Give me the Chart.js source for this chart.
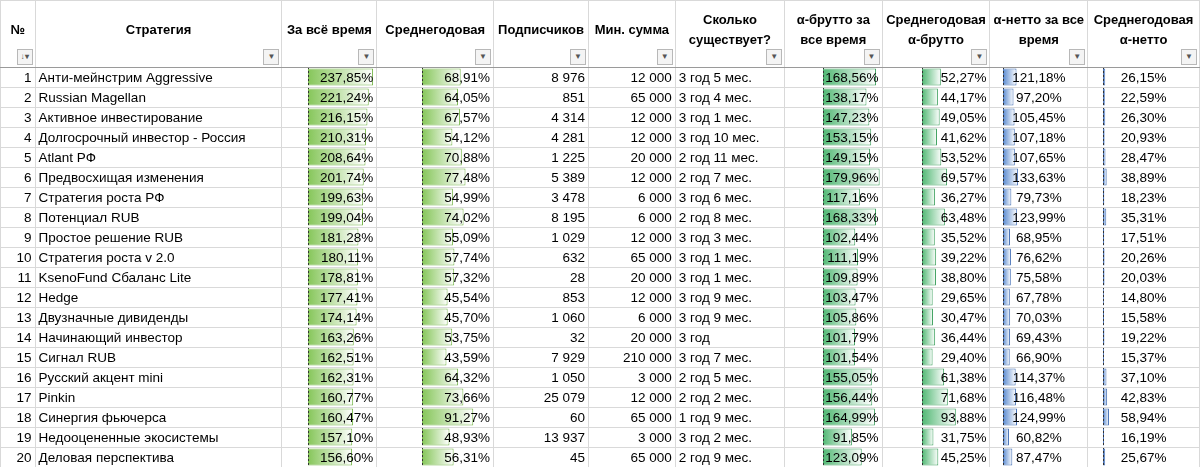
<!DOCTYPE html>
<html>
<head>
<meta charset="utf-8">
<script src="https://cdn.jsdelivr.net/npm/chart.js@4"></script>
<style>
  body { margin: 0; background: #fff; font-family: "Liberation Sans", Arial, sans-serif; }
  #wrap { position: relative; width: 1200px; height: 467px; overflow: hidden; }
  .bars { position: absolute; top: 67px; }
  table { position: absolute; left: 0; top: 0; border-collapse: collapse; table-layout: fixed; font-size: 13.5px; color: #000; }
  td, th { border: 1px solid #d9d9d9; padding: 0 3px; height: 19px; white-space: nowrap; overflow: hidden; }
  th { height: 66px; font-weight: bold; font-size: 13px; position: relative; vertical-align: middle; line-height: 20px; border-bottom: 1px solid #9a9a9a; }
  .flt { position: absolute; right: 2px; bottom: 2px; width: 14px; height: 14px; border: 1px solid #b8b8b8; background: #f4f4f4; font-size: 8px; line-height: 14px; text-align: center; color: #555; }
  .r { text-align: right; } .l { text-align: left; } .c { text-align: center; }
</style>
</head>
<body>
<div id="wrap">
  <canvas class="bars" id="b0" width="70" height="400" style="left:308px;width:70px;height:400px"></canvas>
  <canvas class="bars" id="b1" width="73" height="400" style="left:422px;width:73px;height:400px"></canvas>
  <canvas class="bars" id="b2" width="62" height="400" style="left:823px;width:62px;height:400px"></canvas>
  <canvas class="bars" id="b3" width="71" height="400" style="left:922px;width:71px;height:400px"></canvas>
  <canvas class="bars" id="b4" width="85" height="400" style="left:1003px;width:85px;height:400px"></canvas>
  <canvas class="bars" id="b5" width="97" height="400" style="left:1103px;width:97px;height:400px"></canvas>
  <table id="tbl"></table>
</div>
<script>
const names = ['Анти-мейнстрим Aggressive', 'Russian Magellan', 'Активное инвестирование', 'Долгосрочный инвестор - Россия', 'Atlant РФ', 'Предвосхищая изменения', 'Стратегия роста РФ', 'Потенциал RUB', 'Простое решение RUB', 'Стратегия роста v 2.0', 'KsenoFund Сбаланс Lite', 'Hedge', 'Двузначные дивиденды', 'Начинающий инвестор', 'Сигнал RUB', 'Русский акцент mini', 'Pinkin', 'Синергия фьючерса', 'Недооцененные экосистемы', 'Деловая перспектива'];
const totalReturn = [237.85, 221.24, 216.15, 210.31, 208.64, 201.74, 199.63, 199.04, 181.28, 180.11, 178.81, 177.41, 174.14, 163.26, 162.51, 162.31, 160.77, 160.47, 157.10, 156.60];
const annualReturn = [68.91, 64.05, 67.57, 54.12, 70.88, 77.48, 54.99, 74.02, 55.09, 57.74, 57.32, 45.54, 45.70, 53.75, 43.59, 64.32, 73.66, 91.27, 48.93, 56.31];
const subscribers = ['8 976', '851', '4 314', '4 281', '1 225', '5 389', '3 478', '8 195', '1 029', '632', '28', '853', '1 060', '32', '7 929', '1 050', '25 079', '60', '13 937', '45'];
const minSum = ['12 000', '65 000', '12 000', '12 000', '20 000', '12 000', '6 000', '6 000', '12 000', '65 000', '20 000', '12 000', '6 000', '20 000', '210 000', '3 000', '12 000', '65 000', '3 000', '65 000'];
const age = ['3 год 5 мес.', '3 год 4 мес.', '3 год 1 мес.', '3 год 10 мес.', '2 год 11 мес.', '2 год 7 мес.', '3 год 6 мес.', '2 год 8 мес.', '3 год 3 мес.', '3 год 1 мес.', '3 год 1 мес.', '3 год 9 мес.', '3 год 9 мес.', '3 год', '3 год 7 мес.', '2 год 5 мес.', '2 год 2 мес.', '1 год 9 мес.', '3 год 2 мес.', '2 год 9 мес.'];
const alphaGross = [168.56, 138.17, 147.23, 153.15, 149.15, 179.96, 117.16, 168.33, 102.44, 111.19, 109.89, 103.47, 105.86, 101.79, 101.54, 155.05, 156.44, 164.99, 91.85, 123.09];
const alphaGrossAnnual = [52.27, 44.17, 49.05, 41.62, 53.52, 69.57, 36.27, 63.48, 35.52, 39.22, 38.80, 29.65, 30.47, 36.44, 29.40, 61.38, 71.68, 93.88, 31.75, 45.25];
const alphaNet = [121.18, 97.20, 105.45, 107.18, 107.65, 133.63, 79.73, 123.99, 68.95, 76.62, 75.58, 67.78, 70.03, 69.43, 66.90, 114.37, 116.48, 124.99, 60.82, 87.47];
const alphaNetAnnual = [26.15, 22.59, 26.30, 20.93, 28.47, 38.89, 18.23, 35.31, 17.51, 20.26, 20.03, 14.80, 15.58, 19.22, 15.37, 37.10, 42.83, 58.94, 16.19, 25.67];

const pct = v => v.toFixed(2).replace('.', ',') + '%';

// table text
const widths = [35, 248, 95, 117, 95, 87, 110, 98, 108, 95, 112];
const heads = ['№', 'Стратегия', 'За всё время', 'Среднегодовая', 'Подписчиков', 'Мин. сумма', 'Сколько<br>существует?', 'α-брутто за<br>все время', 'Среднегодовая<br>α-брутто', 'α-нетто за все<br>время', 'Среднегодовая<br>α-нетто'];
let html = '<colgroup>' + widths.map(w => `<col style="width:${w}px">`).join('') + '</colgroup><tr>';
heads.forEach((h, i) => {
    html += `<th><div style="margin-bottom:8px">${h}</div><div class="flt">${i === 0 ? '↓▾' : '▼'}</div></th>`;
});
html += '</tr>';
names.forEach((n, i) => {
    html += `<tr><td class="r">${i + 1}</td><td class="l">${n}</td>` +
        `<td class="r">${pct(totalReturn[i])}</td><td class="r">${pct(annualReturn[i])}</td>` +
        `<td class="r">${subscribers[i]}</td><td class="r">${minSum[i]}</td><td class="l">${age[i]}</td>` +
        `<td class="r">${pct(alphaGross[i])}</td><td class="r">${pct(alphaGrossAnnual[i])}</td>` +
        `<td class="c">${pct(alphaNet[i])}</td><td class="c">${pct(alphaNetAnnual[i])}</td></tr>`;
});
document.getElementById('tbl').innerHTML = html;

// dashed axis at the start of each data bar column
const axisLine = {
    id: 'axisLine',
    afterDraw(chart) {
        const ctx = chart.ctx, x = chart.scales.x.getPixelForValue(chart.scales.x.min) + 0.5;
        ctx.save();
        ctx.strokeStyle = '#333';
        ctx.setLineDash([2, 2]);
        ctx.beginPath();
        ctx.moveTo(x, 0);
        ctx.lineTo(x, chart.height);
        ctx.stroke();
        ctx.restore();
    }
};

function makeBars(id, data, min, max, color, border) {
    new Chart(document.getElementById(id), {
        type: 'bar',
        data: {
            labels: names,
            datasets: [{
                data: data,
                base: min,
                borderColor: border,
                borderWidth: 1,
                borderSkipped: false,
                categoryPercentage: 0.85,
                barPercentage: 1,
                backgroundColor: (c) => {
                    const chart = c.chart;
                    if (!chart.chartArea || c.raw === undefined) return color;
                    const sx = chart.scales.x;
                    const x0 = sx.getPixelForValue(min), x1 = sx.getPixelForValue(c.raw);
                    const g = chart.ctx.createLinearGradient(x0, 0, Math.max(x1, x0 + 1), 0);
                    g.addColorStop(0, color);
                    g.addColorStop(1, '#ffffff');
                    return g;
                }
            }]
        },
        options: {
            indexAxis: 'y',
            responsive: false,
            devicePixelRatio: 1,
            animation: false,
            layout: { padding: 0 },
            scales: {
                x: { display: false, min: min, max: max },
                y: { display: false }
            },
            plugins: { legend: { display: false }, tooltip: { enabled: false } }
        },
        plugins: [axisLine]
    });
}

makeBars('b0', totalReturn, -14, 257, '#86c65a', '#7ab84e');
makeBars('b1', annualReturn, 0, 130, '#86c65a', '#7ab84e');
makeBars('b2', alphaGross, 0, 197, '#52b874', '#44a463');
makeBars('b3', alphaGrossAnnual, 0, 197, '#52b874', '#44a463');
makeBars('b4', alphaNet, 13, 693, '#5b8bd0', '#4a74b8');
makeBars('b5', alphaNetAnnual, 7, 850, '#5b8bd0', '#4a74b8');
</script>
</body>
</html>
